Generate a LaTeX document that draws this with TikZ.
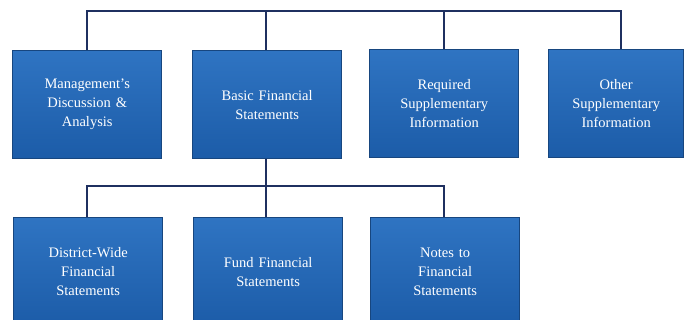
\documentclass[tikz,border=0pt]{standalone}
\usepackage{fontspec}
\setmainfont{Liberation Serif}
\definecolor{boxtop}{HTML}{2F74C2}
\definecolor{boxbot}{HTML}{1C5CA8}
\definecolor{boxedge}{HTML}{17467F}
\definecolor{linec}{HTML}{1F3060}
\begin{document}
\begin{tikzpicture}[x=1pt,y=-1pt,
  blk/.style={draw=boxedge, line width=1.4pt, top color=boxtop, bottom color=boxbot,
    minimum width=149pt, minimum height=108pt, inner sep=0pt, anchor=north west,
    text=white, align=center, text width=130pt,
    font=\fontsize{14.5}{19}\selectfont},
  conn/.style={draw=linec, line width=2pt}]
\useasboundingbox (0,0) rectangle (685,320);
\clip (0,0) rectangle (685,320);
\node[blk] (mda) at (12,50) {Management's\\Discussion \&\\Analysis};
\node[blk] (bfs) at (192,50) {Basic Financial\\Statements};
\node[blk] (rsi) at (369,49) {Required\\Supplementary\\Information};
\node[blk, minimum width=135pt] (osi) at (548,49) {Other\\Supplementary\\Information};
\node[blk] (dw) at (13,217) {District-Wide\\Financial\\Statements};
\node[blk] (ffs) at (193,217) {Fund Financial\\Statements};
\node[blk] (nfs) at (370,217) {Notes to\\Financial\\Statements};
\coordinate (t1) at (87,11);
\coordinate (t4) at (621,11);
\coordinate (b1) at (87,186);
\coordinate (b3) at (444,186);
\draw[conn] (mda.north -| t1) -- (t1) -- (t4) -- (osi.north -| t4);
\draw[conn] (bfs.north -| 266,0) -- (266,11);
\draw[conn] (rsi.north -| 444,0) -- (444,11);
\draw[conn] (bfs.south -| 266,0) -- (266,186);
\draw[conn] (dw.north -| b1) -- (b1) -- (b3) -- (nfs.north -| b3);
\draw[conn] (266,186) -- (ffs.north -| 266,0);
\end{tikzpicture}
\end{document}
